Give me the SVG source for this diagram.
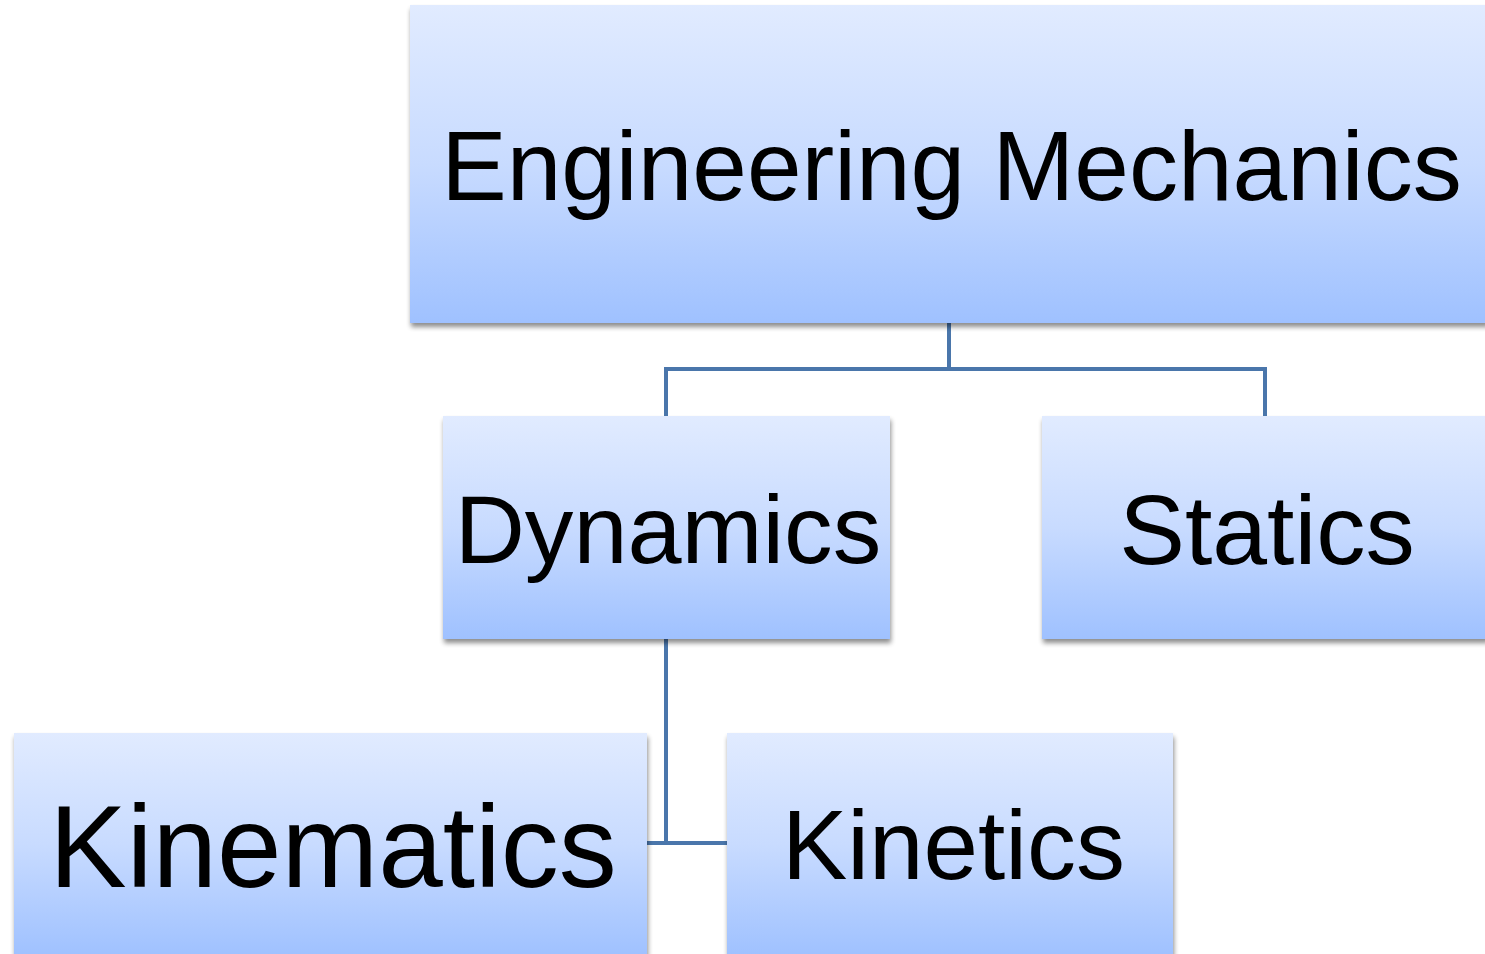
<svg xmlns="http://www.w3.org/2000/svg" width="1485" height="954" viewBox="0 0 1485 954">
<defs>
<linearGradient id="g" x1="0" y1="0" x2="0" y2="1">
<stop offset="0" stop-color="#e1ebff"/>
<stop offset="0.5" stop-color="#c8dbff"/>
<stop offset="1" stop-color="#9fc1ff"/>
</linearGradient>
<filter id="sh" x="-5%" y="-5%" width="112%" height="115%">
<feGaussianBlur in="SourceAlpha" stdDeviation="2.5"/>
<feOffset dx="1" dy="4" result="b"/>
<feComponentTransfer><feFuncA type="linear" slope="0.45"/></feComponentTransfer>
<feMerge><feMergeNode/><feMergeNode in="SourceGraphic"/></feMerge>
</filter>
<style>
.box{fill:url(#g);filter:url(#sh);}
.t{font-family:"Liberation Sans",Arial,sans-serif;fill:#000;text-anchor:middle;}
.c{fill:none;stroke:#4a76ab;stroke-width:4;}
</style>
</defs>
<rect width="1485" height="954" fill="#ffffff"/>
<g id="connectors">
<path class="c" d="M949 322 V369 H666 V416 M949 369 H1265 V416"/>
<path class="c" d="M666 638 V843 M645 843 H729"/>
</g>
<g id="node-engineering-mechanics">
<rect class="box" x="410" y="5" width="1078" height="318"/>
<text class="t" x="951.5" y="200" font-size="98.2">Engineering Mechanics</text>
</g>
<g id="node-dynamics">
<rect class="box" x="443" y="416" width="447" height="223"/>
<text class="t" x="668" y="563" font-size="97.2">Dynamics</text>
</g>
<g id="node-statics">
<rect class="box" x="1042" y="416" width="446" height="223"/>
<text class="t" x="1267" y="564" font-size="98.5">Statics</text>
</g>
<g id="node-kinematics">
<rect class="box" x="14" y="733" width="633" height="223"/>
<text class="t" x="333" y="887" font-size="116">Kinematics</text>
</g>
<g id="node-kinetics">
<rect class="box" x="727" y="733" width="446" height="223"/>
<text class="t" x="953.5" y="879" font-size="98">Kinetics</text>
</g>
</svg>
